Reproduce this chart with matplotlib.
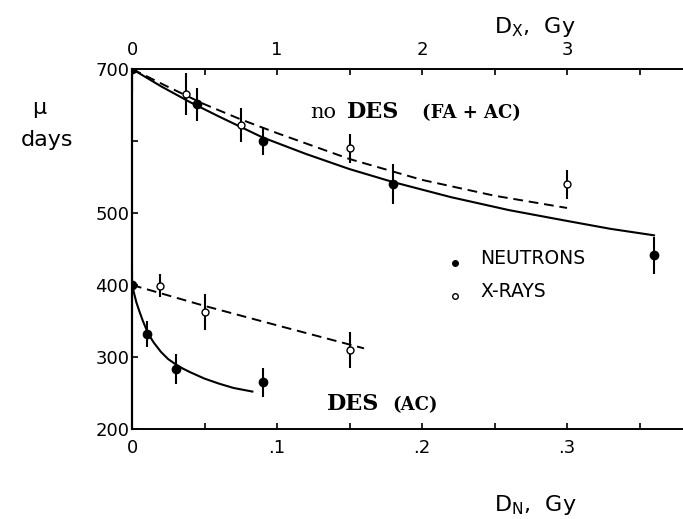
import numpy as np
import matplotlib.pyplot as plt

# no DES (FA + AC) group
n_dose_fa = [0, 0.045, 0.09, 0.18, 0.36]          # D_N, Gy
n_mu_fa = [700, 651, 600, 540, 441]
n_err_fa = [32, 23, 20, 28, 26]
x_dose_fa = [0.375, 0.75, 1.5, 3.0]               # D_X, Gy
x_mu_fa = [665, 622, 590, 540]
x_err_fa = [29, 24, 20, 20]

# DES (AC) group
n_dose_ac = [0, 0.01, 0.03, 0.09]
n_mu_ac = [400, 332, 283, 265]
n_err_ac = [20, 18, 21, 20]
x_dose_ac = [0.19, 0.5, 1.5]
x_mu_ac = [399, 362, 310]
x_err_ac = [16, 25, 25]

# fitted curves
fit_n_fa_x = [0, 0.02, 0.04, 0.06, 0.09, 0.12, 0.15, 0.18, 0.22, 0.26, 0.30, 0.33, 0.36]
fit_n_fa_y = [700, 676, 654, 634, 605, 582, 561, 543, 522, 504, 489, 478, 469]
fit_x_fa_x = [0, 0.25, 0.5, 0.75, 1.0, 1.5, 2.0, 2.5, 3.0]
fit_x_fa_y = [700, 675, 651, 630, 611, 575, 546, 524, 507]
fit_n_ac_x = [0, 0.001, 0.003, 0.005, 0.0075, 0.01, 0.0125, 0.015, 0.02, 0.025,
              0.03, 0.035, 0.04, 0.05, 0.06, 0.07, 0.083]
fit_n_ac_y = [400, 392, 376, 364, 350, 338, 328, 320, 307, 297,
              290, 284, 279, 270, 263, 257, 252]
fit_x_ac_x = [0, 0.5, 1.0, 1.6]
fit_x_ac_y = [400, 371, 344, 312]

bottom_ticks = [0, 0.05, 0.1, 0.15, 0.2, 0.25, 0.3, 0.35]
bottom_labels = ['0', '', '.1', '', '.2', '', '.3', '']
top_ticks = [0, 0.5, 1, 1.5, 2, 2.5, 3, 3.5]
top_labels = ['0', '', '1', '', '2', '', '3', '']
y_ticks = [200, 300, 400, 500, 600, 700]
y_labels = ['200', '300', '400', '500', '', '700']

fig = plt.figure(figsize=(6.83, 5.19), dpi=100)
ax = fig.add_axes([132 / 683, 90 / 519, 551 / 683, 360 / 519])
ax2 = ax.twiny()

ax.set_xlim(0, 0.38)
ax2.set_xlim(0, 3.8)
ax.set_ylim(200, 700)

# curves
ax.plot(fit_n_fa_x, fit_n_fa_y, color='black', lw=1.5)
ax.plot(fit_n_ac_x, fit_n_ac_y, color='black', lw=1.5)
ax2.plot(fit_x_fa_x, fit_x_fa_y, color='black', lw=1.4, dashes=(5, 3))
ax2.plot(fit_x_ac_x, fit_x_ac_y, color='black', lw=1.4, dashes=(5, 3))

# neutrons (filled)
for d, m, e in [(n_dose_fa, n_mu_fa, n_err_fa), (n_dose_ac, n_mu_ac, n_err_ac)]:
    ax.errorbar(d, m, yerr=e, fmt='o', color='black', ms=6, elinewidth=1.5,
                capsize=0, zorder=5)

# x-rays (open)
for d, m, e in [(x_dose_fa, x_mu_fa, x_err_fa), (x_dose_ac, x_mu_ac, x_err_ac)]:
    ax2.errorbar(d, m, yerr=e, fmt='o', color='black', mfc='white', mec='black',
                 ms=5, mew=1, elinewidth=1.5, capsize=0, zorder=5)

# axes styling
for a in (ax, ax2):
    a.spines['right'].set_visible(False)
    for s in ('left', 'top', 'bottom'):
        a.spines[s].set_linewidth(1.2)
ax.spines['left'].set_linewidth(1.6)

ax.set_xticks(bottom_ticks)
ax.set_xticklabels(bottom_labels)
ax.set_yticks(y_ticks)
ax.set_yticklabels(y_labels)
ax.tick_params(axis='both', direction='in', length=4, width=1.2, labelsize=13)
ax.tick_params(axis='x', pad=7)
ax.tick_params(axis='y', pad=2)

ax2.set_xticks(top_ticks)
ax2.set_xticklabels(top_labels)
ax2.tick_params(axis='x', direction='in', length=4, width=1.2, labelsize=13, pad=7)

# axis titles
fig.text(535 / 683, 1 - 27 / 519, r'D$_{\rm X}$,  Gy', fontsize=16, ha='center', va='center')
fig.text(535 / 683, 1 - 505 / 519, r'D$_{\rm N}$,  Gy', fontsize=16, ha='center', va='center')
fig.text(39 / 683, 1 - 108 / 519, 'μ', fontsize=16, ha='center', va='center')
fig.text(47 / 683, 1 - 140 / 519, 'days', fontsize=16, ha='center', va='center')

# group labels
ax.text(0.323, 0.864, 'no', transform=ax.transAxes, fontsize=15, family='DejaVu Serif',
        va='baseline')
ax.text(0.390, 0.864, 'DES', transform=ax.transAxes, fontsize=16, family='DejaVu Serif',
        fontweight='bold', va='baseline')
ax.text(0.526, 0.864, '(FA + AC)', transform=ax.transAxes, fontsize=13, family='DejaVu Serif',
        fontweight='bold', va='baseline')
ax.text(0.354, 0.053, 'DES', transform=ax.transAxes, fontsize=16, family='DejaVu Serif',
        fontweight='bold', va='baseline')
ax.text(0.472, 0.053, '(AC)', transform=ax.transAxes, fontsize=13, family='DejaVu Serif',
        fontweight='bold', va='baseline')

# legend
ax.plot([0.586], [0.461], 'o', color='black', ms=4, transform=ax.transAxes, clip_on=False)
ax.plot([0.586], [0.369], 'o', color='black', mfc='white', ms=4, mew=1,
        transform=ax.transAxes, clip_on=False)
ax.text(0.632, 0.475, 'NEUTRONS', transform=ax.transAxes, fontsize=13.5, va='center')
ax.text(0.632, 0.381, 'X-RAYS', transform=ax.transAxes, fontsize=13.5, va='center')

fig.savefig('out.png', dpi=100)
